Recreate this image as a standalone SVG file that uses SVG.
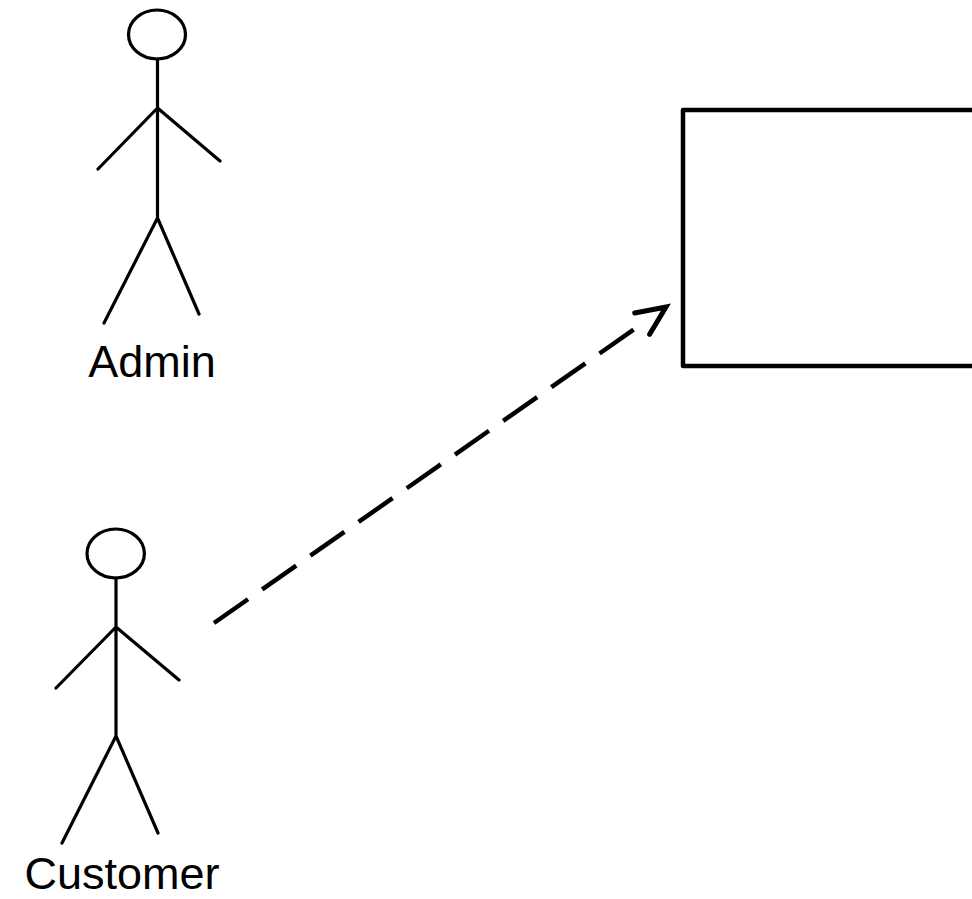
<svg xmlns="http://www.w3.org/2000/svg" width="972" height="899" viewBox="0 0 972 899">
  <style>
    .stick { fill: none; stroke: #000; stroke-width: 3.2; stroke-linecap: round; stroke-linejoin: round; }
    .label { font-family: "Liberation Sans", Arial, sans-serif; font-size: 45px; fill: #000; text-anchor: middle; }
    .box { fill: #fff; stroke: #000; stroke-width: 4.5; stroke-linejoin: round; }
    .dep { fill: none; stroke: #000; stroke-width: 4.5; stroke-dasharray: 41.5 17.3; }
  </style>
  <defs>
    <marker id="openArrow" markerUnits="userSpaceOnUse" orient="auto" refX="-39" refY="0" markerWidth="10" markerHeight="10" overflow="visible">
      <path d="M -29 -13 L 0 0 L -29 13" fill="none" stroke="#000" stroke-width="5" stroke-linecap="round" stroke-linejoin="miter"/>
    </marker>
  </defs>
  <rect width="972" height="899" fill="#fff"/>

  <g id="admin">
    <ellipse class="stick" cx="157" cy="34.5" rx="28.5" ry="24.5"/>
    <path class="stick" d="M 157.5 59 L 157.5 218 M 98 169 L 157.5 108 L 220 161 M 104 323 L 157.5 218 L 199 314"/>
    <text class="label" x="152" y="377">Admin</text>
  </g>

  <g id="customer">
    <ellipse class="stick" cx="115.7" cy="553.5" rx="28.7" ry="24.5"/>
    <path class="stick" d="M 116 578 L 116 736 M 56 688 L 116 627 L 179 680 M 62 843 L 116 736 L 158 833"/>
    <text class="label" x="122" y="889">Customer</text>
  </g>

  <g id="system">
    <rect class="box" x="683" y="110" width="400" height="256"/>
  </g>

  <g id="connectors">
    <path class="dep" d="M 214 623 L 634 329.4" marker-end="url(#openArrow)"/>
  </g>
</svg>
